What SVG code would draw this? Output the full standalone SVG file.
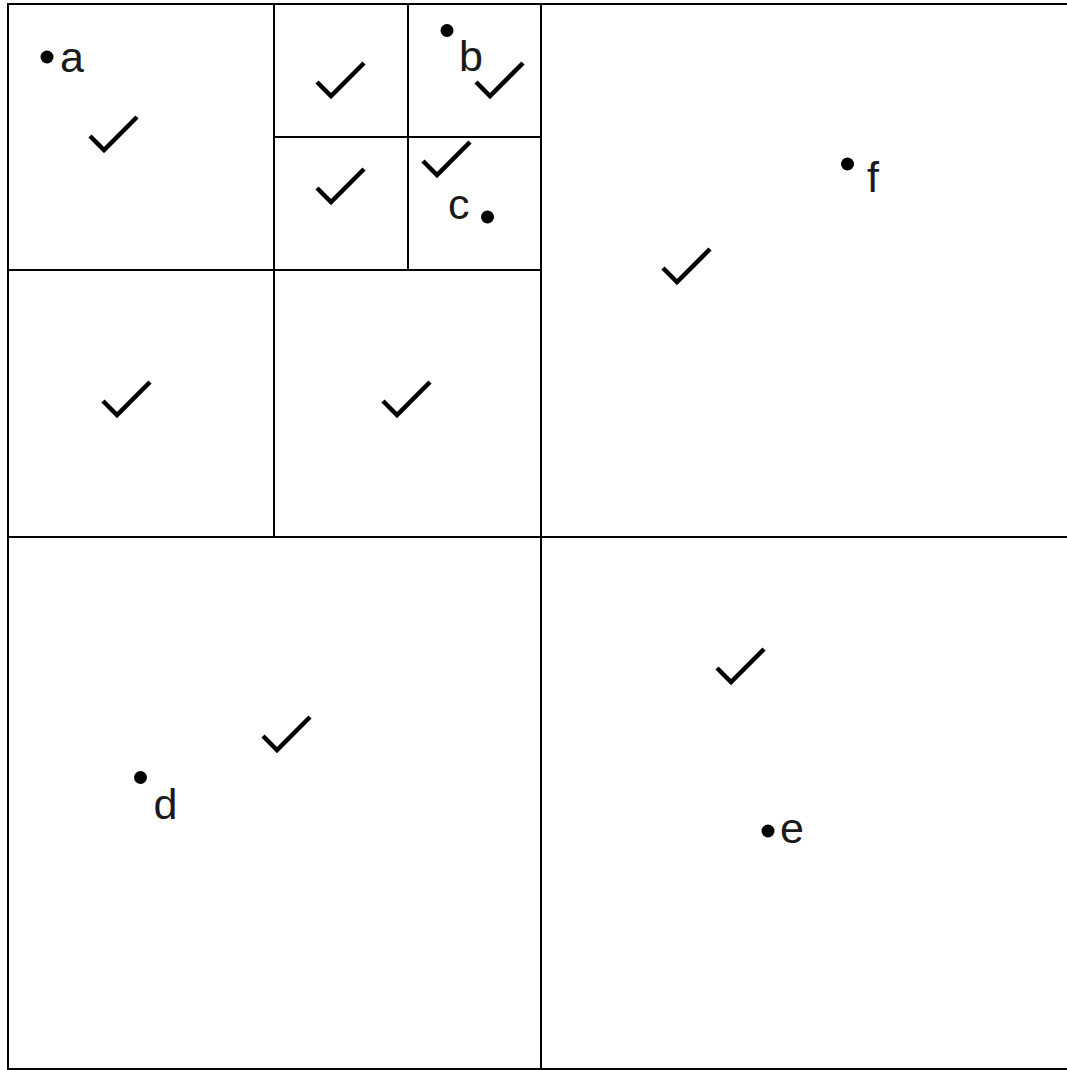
<svg xmlns="http://www.w3.org/2000/svg" width="1067" height="1070" viewBox="0 0 1067 1070">
<defs>
<style>
.grid{fill:none;stroke:#000;stroke-width:2}
.chk{fill:none;stroke:#000;stroke-width:4.5}
.pt{fill:#000}
.lbl{font-family:"Liberation Sans",Arial,sans-serif;font-size:43px;fill:#1a1a1a}
</style>
<path id="check" d="M-14,-14 L0,0 L33,-33"/>
</defs>
<rect width="1067" height="1070" fill="#fff"/>
<g id="grid" class="grid">
<rect x="8" y="4" width="1066" height="1065"/>
<line x1="541" y1="4" x2="541" y2="1069"/>
<line x1="8" y1="537" x2="1074" y2="537"/>
<line x1="274" y1="4" x2="274" y2="537"/>
<line x1="8" y1="270" x2="541" y2="270"/>
<line x1="408" y1="4" x2="408" y2="270"/>
<line x1="274" y1="137" x2="541" y2="137"/>
</g>
<g id="checks" class="chk">
<use href="#check" x="104" y="150"/>
<use href="#check" x="331" y="96"/>
<use href="#check" x="490" y="96"/>
<use href="#check" x="331" y="202"/>
<use href="#check" x="437" y="175"/>
<use href="#check" x="117" y="415"/>
<use href="#check" x="397" y="415"/>
<use href="#check" x="677" y="282"/>
<use href="#check" x="277" y="750"/>
<use href="#check" x="731" y="682"/>
</g>
<g id="point-a"><circle class="pt" cx="47" cy="57" r="6.5"/><text class="lbl" x="60" y="71.5">a</text></g>
<g id="point-b"><circle class="pt" cx="447" cy="30.5" r="6.5"/><text class="lbl" x="459" y="71">b</text></g>
<g id="point-c"><circle class="pt" cx="487.5" cy="217" r="6.5"/><text class="lbl" x="448" y="219">c</text></g>
<g id="point-d"><circle class="pt" cx="140.5" cy="777.5" r="6.5"/><text class="lbl" x="153.5" y="819">d</text></g>
<g id="point-e"><circle class="pt" cx="768" cy="831" r="6.5"/><text class="lbl" x="780" y="843">e</text></g>
<g id="point-f"><circle class="pt" cx="847.5" cy="164" r="6.5"/><text class="lbl" x="867" y="192">f</text></g>
</svg>
